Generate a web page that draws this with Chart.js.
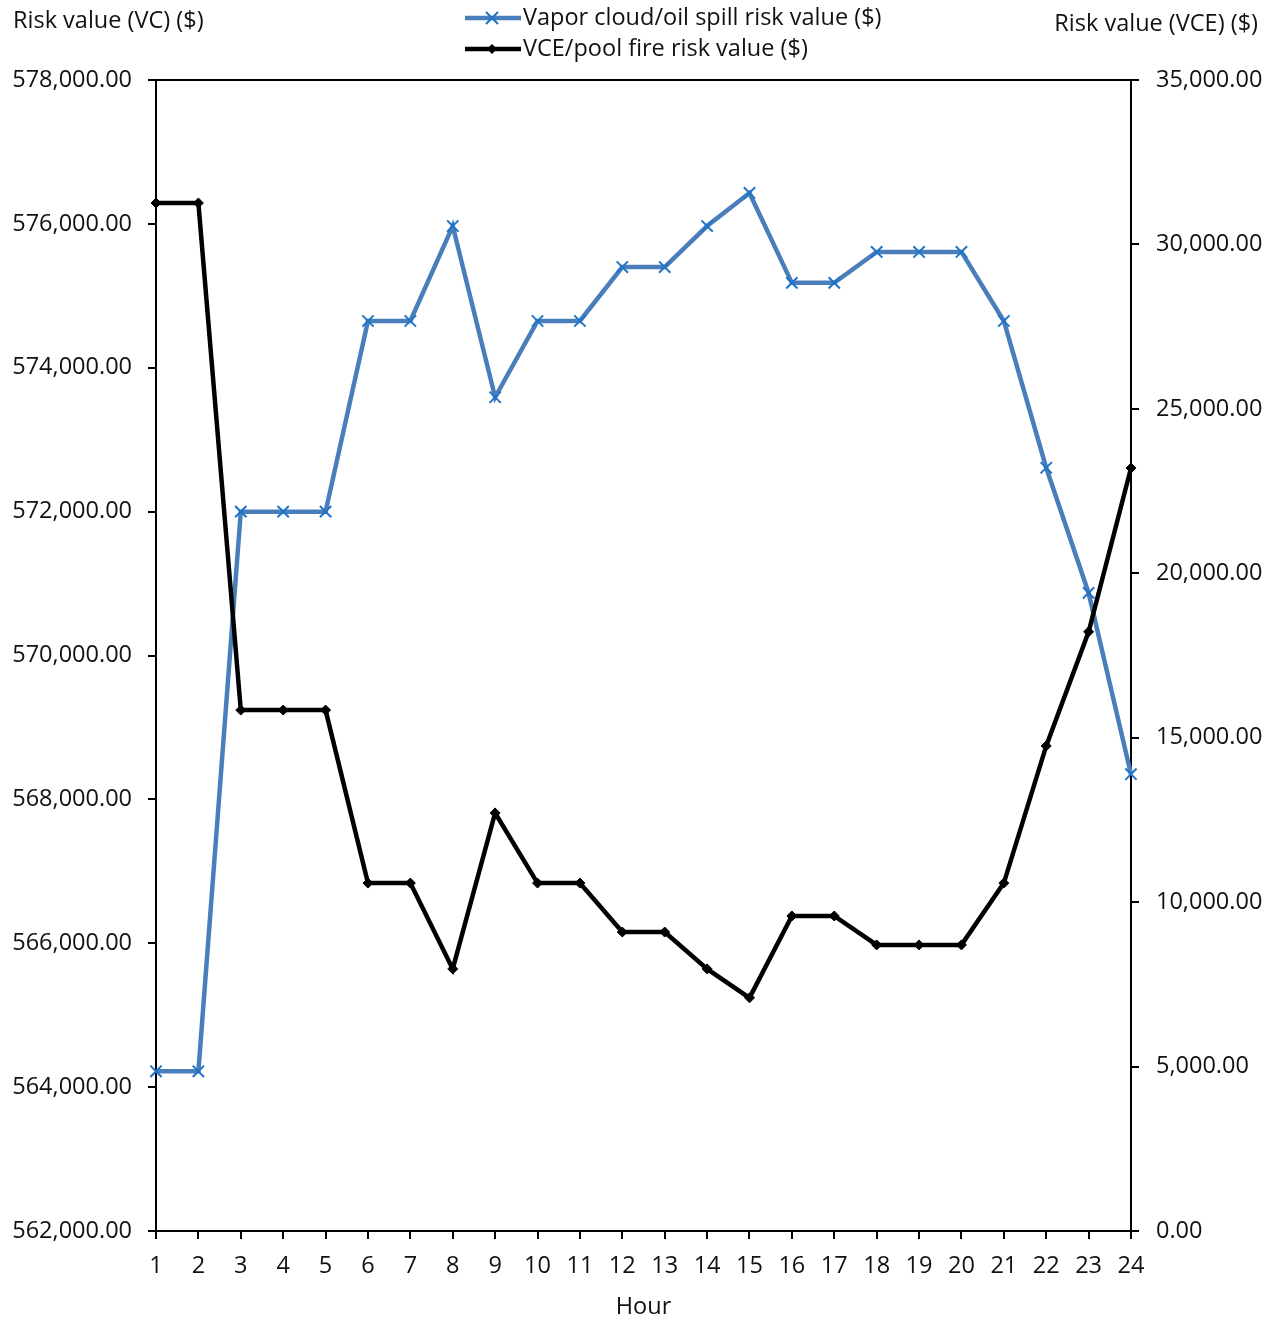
<!DOCTYPE html>
<html>
<head>
<meta charset="utf-8">
<script src="https://cdn.jsdelivr.net/npm/chart.js@4.4.1/dist/chart.umd.min.js"></script>
<style>
  body { margin: 0; background: #fff; }
  #wrap { width: 1278px; height: 1321px; }
</style>
</head>
<body>
<div id="wrap"><canvas id="riskChart" width="1278" height="1321"></canvas></div>
<script>
// Hours of the day
const hours = ['1','2','3','4','5','6','7','8','9','10','11','12','13','14','15','16','17','18','19','20','21','22','23','24'];

// Vapor cloud / oil spill risk value ($), left axis
const vcRisk = [564220, 564220, 572000, 572000, 572000, 574650, 574650, 575970, 573590, 574650, 574650, 575400,
                575400, 575970, 576430, 575180, 575180, 575610, 575610, 575610, 574650, 572610, 570870, 568350];

// VCE / pool fire risk value ($), right axis
const vceRisk = [31260, 31260, 15840, 15840, 15840, 10580, 10580, 7970, 12710, 10580, 10580, 9090,
                 9090, 7970, 7090, 9580, 9580, 8700, 8700, 8700, 10580, 14750, 18220, 23200];

// Axis ranges
const leftRange = { min: 562000, max: 578000, step: 2000 };
const rightRange = { min: 0, max: 35000, step: 5000 };

const FONT = '"Open Sans", "Noto Sans", sans-serif';
const FONT_SIZE = 23.5;
const TEXT = '#111';
const money = v => Number(v).toLocaleString('en-US', { minimumFractionDigits: 2, maximumFractionDigits: 2 });

// Titles, legend and the top frame line
const decorations = {
  id: 'decorations',
  afterDraw(chart) {
    const ctx = chart.ctx;
    const area = chart.chartArea;
    ctx.save();

    // top frame line
    ctx.strokeStyle = '#000';
    ctx.lineWidth = 2;
    ctx.beginPath();
    ctx.moveTo(area.left - 8, area.top);
    ctx.lineTo(area.right + 8, area.top);
    ctx.stroke();

    ctx.fillStyle = TEXT;
    ctx.font = FONT_SIZE + 'px ' + FONT;
    ctx.textBaseline = 'middle';
    ctx.textAlign = 'left';
    ctx.fillText('Risk value (VC) ($)', 13, 21);
    ctx.textAlign = 'right';
    ctx.fillText('Risk value (VCE) ($)', 1258, 24);
    ctx.textAlign = 'center';
    ctx.fillText('Hour', (area.left + area.right) / 2, 1307);

    // legend
    const items = chart.data.datasets;
    items.forEach((ds, i) => {
      const y = 18 + i * 31;
      ctx.strokeStyle = ds.borderColor;
      ctx.lineWidth = ds.borderWidth;
      ctx.beginPath();
      ctx.moveTo(465, y);
      ctx.lineTo(521, y);
      ctx.stroke();
      if (ds.pointStyle === 'crossRot') {
        ctx.strokeStyle = ds.pointBorderColor;
        ctx.lineWidth = ds.pointBorderWidth;
        ctx.beginPath();
        ctx.moveTo(486, y - 6); ctx.lineTo(498, y + 6);
        ctx.moveTo(498, y - 6); ctx.lineTo(486, y + 6);
        ctx.stroke();
      } else {
        ctx.fillStyle = ds.pointBackgroundColor;
        ctx.beginPath();
        ctx.moveTo(492, y - 5); ctx.lineTo(497, y); ctx.lineTo(492, y + 5); ctx.lineTo(487, y);
        ctx.closePath();
        ctx.fill();
      }
      ctx.fillStyle = TEXT;
      ctx.textAlign = 'left';
      ctx.fillText(ds.label, 523, y);
    });
    ctx.restore();
  }
};

const axisLine = { color: '#000', width: 2 };
const tickGrid = { drawOnChartArea: false, drawTicks: true, tickLength: 8, color: '#000', lineWidth: 2 };

new Chart(document.getElementById('riskChart').getContext('2d'), {
  type: 'line',
  data: {
    labels: hours,
    datasets: [{
      label: 'Vapor cloud/oil spill risk value ($)',
      data: vcRisk,
      yAxisID: 'yLeft',
      borderColor: '#4a7ebb',
      borderWidth: 4.5,
      pointStyle: 'crossRot',
      pointRadius: 8,
      pointHoverRadius: 8,
      pointBorderColor: '#1f74c8',
      pointBackgroundColor: '#1f74c8',
      pointBorderWidth: 2,
      tension: 0,
      order: 1
    }, {
      label: 'VCE/pool fire risk value ($)',
      data: vceRisk,
      yAxisID: 'yRight',
      borderColor: '#000',
      borderWidth: 4.5,
      pointStyle: 'rectRot',
      pointRadius: 5,
      pointHoverRadius: 5,
      pointBorderColor: '#000',
      pointBackgroundColor: '#000',
      pointBorderWidth: 1,
      tension: 0,
      order: 0
    }]
  },
  options: {
    responsive: false,
    animation: false,
    layout: { padding: { top: 80, left: 0, right: 0, bottom: 0 } },
    plugins: {
      legend: { display: false },
      tooltip: { enabled: false }
    },
    scales: {
      x: {
        type: 'category',
        offset: false,
        grid: tickGrid,
        border: axisLine,
        ticks: { color: TEXT, font: { family: FONT, size: FONT_SIZE }, padding: 13, maxRotation: 0, autoSkip: false },
        afterFit(scale) { scale.height = 90; }
      },
      yLeft: {
        position: 'left',
        min: leftRange.min,
        max: leftRange.max,
        grid: tickGrid,
        border: axisLine,
        ticks: { stepSize: leftRange.step, color: TEXT, font: { family: FONT, size: FONT_SIZE }, padding: 16, callback: money },
        afterFit(scale) { scale.width = 156; }
      },
      yRight: {
        position: 'right',
        min: rightRange.min,
        max: rightRange.max,
        grid: tickGrid,
        border: axisLine,
        ticks: { stepSize: rightRange.step, color: TEXT, font: { family: FONT, size: FONT_SIZE }, padding: 17, callback: money },
        afterFit(scale) { scale.width = 147; }
      }
    }
  },
  plugins: [decorations]
});
</script>
</body>
</html>
